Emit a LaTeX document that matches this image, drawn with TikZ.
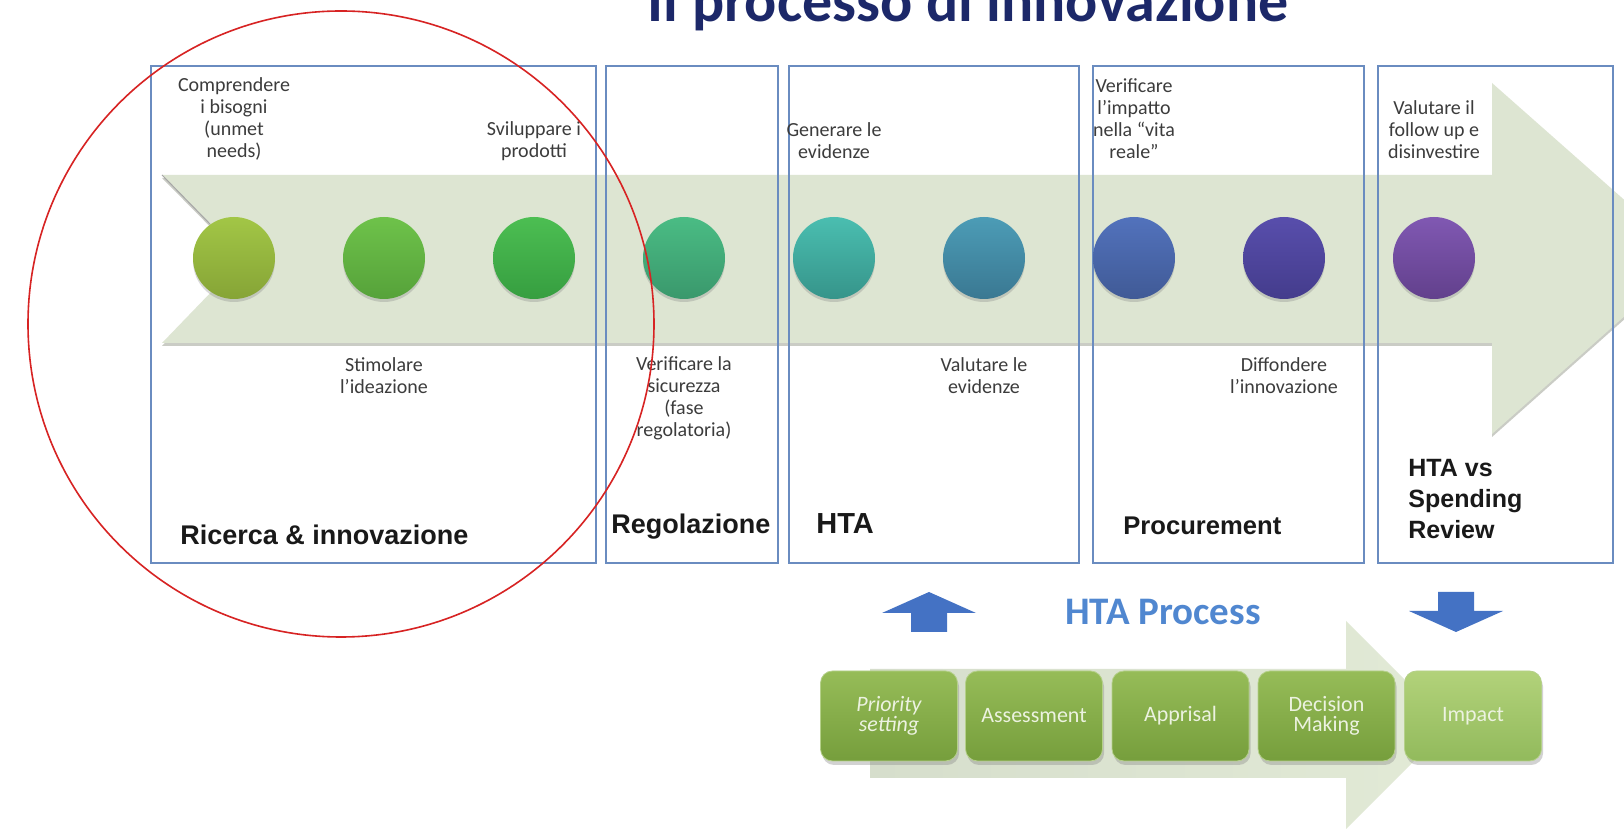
\documentclass[tikz,border=0pt]{standalone}
\usepackage{fontspec}
\setmainfont{Carlito}
\newfontfamily\arialf{Liberation Sans}
\usetikzlibrary{shadows}
\definecolor{arrowfill}{RGB}{221,229,210}
\definecolor{arrowshadow}{RGB}{150,155,140}
\definecolor{boxblue}{RGB}{106,140,192}
\definecolor{notegray}{RGB}{60,60,60}
\definecolor{titlenavy}{RGB}{28,40,105}
\definecolor{htablue}{RGB}{80,135,208}
\definecolor{arrowblue}{RGB}{68,114,196}
\definecolor{phaseblack}{RGB}{25,25,25}
\definecolor{redline}{RGB}{215,35,35}
\definecolor{ca}{RGB}{162,198,70}\definecolor{cA}{RGB}{134,164,54}
\definecolor{cb}{RGB}{110,194,74}\definecolor{cB}{RGB}{86,162,58}
\definecolor{cc}{RGB}{76,190,82}\definecolor{cC}{RGB}{54,158,64}
\definecolor{cd}{RGB}{74,188,132}\definecolor{cD}{RGB}{58,152,108}
\definecolor{ce}{RGB}{74,190,176}\definecolor{cE}{RGB}{54,148,138}
\definecolor{cf}{RGB}{76,156,182}\definecolor{cF}{RGB}{58,120,146}
\definecolor{cg}{RGB}{82,114,188}\definecolor{cG}{RGB}{64,90,150}
\definecolor{ch}{RGB}{88,78,172}\definecolor{cH}{RGB}{68,60,140}
\definecolor{ci}{RGB}{128,88,178}\definecolor{cI}{RGB}{98,64,140}
\definecolor{steptop}{RGB}{150,188,88}\definecolor{stepbot}{RGB}{118,158,60}
\definecolor{impacttop}{RGB}{178,210,122}\definecolor{impactbot}{RGB}{146,186,92}
\definecolor{steptext}{RGB}{236,242,224}
\definecolor{lowarrowL}{RGB}{214,222,204}\definecolor{lowarrowR}{RGB}{226,234,214}
\begin{document}
\begin{tikzpicture}[x=0.5pt,y=-0.5pt,
  stagebox/.style={draw=boxblue, line width=0.8pt, inner sep=0pt, anchor=north west},
  ball/.style 2 args={circle, minimum size=41pt, inner sep=0pt, top color=#1, bottom color=#2,
     drop shadow={shadow xshift=0pt, shadow yshift=-1.5pt, opacity=0.3}},
  note/.style={font=\fontsize{10}{11}\selectfont, align=center, text=notegray, inner sep=0pt},
  phase/.style={font=\arialf\bfseries\fontsize{13.5}{15.5}\selectfont, text=phaseblack, anchor=base west, inner sep=0pt, align=left},
  htastep/.style={rounded corners=6pt, minimum width=68.5pt, minimum height=45pt, inner sep=0pt,
     top color=steptop, bottom color=stepbot, draw=steptop!70!white, line width=0.4pt,
     text=steptext, font=\fontsize{11}{10}\selectfont, align=center,
     drop shadow={shadow xshift=0.8pt, shadow yshift=-2pt, opacity=0.35}},
  bluearrow/.style={fill=arrowblue, draw=none}
]
\useasboundingbox (0,0) rectangle (1624,833);
\fill[white] (0,0) rectangle (1624,833);

% title (cut at top)
\node[font=\bfseries\fontsize{30}{30}\selectfont, text=titlenavy, anchor=base, inner sep=0pt] (title) at (968,22) {Il processo di innovazione};

% big arrow
\begin{scope}
\clip (0,0) rectangle (1624,833);
\fill[arrowshadow, opacity=0.5] (162,178) -- (1492,178) -- (1492,86) -- (1690,261) -- (1492,437) -- (1492,346) -- (162,346) -- (244,261) -- cycle;
\fill[arrowfill] (162,175) -- (1492,175) -- (1492,83) -- (1690,258) -- (1492,434) -- (1492,343) -- (162,343) -- (244,258) -- cycle;
\draw[gray!70, line width=0.5pt] (162,175) -- (210,224);
\end{scope}

% stage boxes
\node[stagebox, minimum width=222.5pt, minimum height=248.5pt] (b1) at (150,65) {};
\node[stagebox, minimum width=86pt, minimum height=248.5pt] (b2) at (605,65) {};
\node[stagebox, minimum width=145pt, minimum height=248.5pt] (b3) at (788,65) {};
\node[stagebox, minimum width=135.5pt, minimum height=248.5pt] (b4) at (1092,65) {};
\node[stagebox, minimum width=117.5pt, minimum height=248.5pt] (b5) at (1377,65) {};

% circles
\node[ball={ca}{cA}] (c1) at (234,258) {};
\node[ball={cb}{cB}] (c2) at (384,258) {};
\node[ball={cc}{cC}] (c3) at (534,258) {};
\node[ball={cd}{cD}] (c4) at (684,258) {};
\node[ball={ce}{cE}] (c5) at (834,258) {};
\node[ball={cf}{cF}] (c6) at (984,258) {};
\node[ball={cg}{cG}] (c7) at (1134,258) {};
\node[ball={ch}{cH}] (c8) at (1284,258) {};
\node[ball={ci}{cI}] (c9) at (1434,258) {};

% upper notes
\node[note] (t1) at (234,119) {Comprendere\\i bisogni\\(unmet\\needs)};
\node[note] (t3) at (534,141) {Sviluppare i\\prodotti};
\node[note] (t5) at (834,141) {Generare le\\evidenze};
\node[note] (t7) at (1134,119) {Verificare\\l’impatto\\nella “vita\\reale”};
\node[note] (t9) at (1434,130) {Valutare il\\follow up e\\disinvestire};

% lower notes
\node[note] (t2) at (384,376) {Stimolare\\l’ideazione};
\node[note] (t4) at (684,398) {Verificare la\\sicurezza\\(fase\\regolatoria)};
\node[note] (t6) at (984,376) {Valutare le\\evidenze};
\node[note] (t8) at (1284,376) {Diffondere\\l’innovazione};

% phase labels
\node[phase] (p1) at (180,545) {Ricerca \& innovazione};
\node[phase] (p2) at (611,534) {Regolazione};
\node[phase, font=\arialf\bfseries\fontsize{14.5}{15.5}\selectfont] (p3) at (816,534) {HTA};
\node[phase, font=\arialf\bfseries\fontsize{12.8}{15.5}\selectfont] (p4) at (1123,535) {Procurement};
\node[phase, font=\arialf\bfseries\fontsize{12.5}{15.5}\selectfont] (p5) at (1408,539) {HTA vs\\Spending\\Review};

% blue arrows
\fill[bluearrow] (929,592) -- (976,613) -- (947,613) -- (947,632) -- (911,632) -- (911,613) -- (882,613) -- cycle;
\fill[bluearrow] (1438,592) -- (1474,592) -- (1474,611) -- (1503,611) -- (1456,632) -- (1409,611) -- (1438,611) -- cycle;

\node[font=\bfseries\fontsize{19.5}{20}\selectfont, text=htablue, inner sep=0pt] (htaproc) at (1163,612) {HTA Process};

% lower process arrow
\shade[left color=lowarrowL, right color=lowarrowR] (870,669) -- (1346,669) -- (1346,621) -- (1450,725) -- (1346,829) -- (1346,778) -- (870,778) -- cycle;

% HTA steps
\node[htastep] (s1) at (889,716) {\itshape Priority\\\itshape setting};
\node[htastep] (s2) at (1034,716) {Assessment};
\node[htastep] (s3) at (1180.5,716) {Apprisal};
\node[htastep] (s4) at (1326.5,716) {Decision\\Making};
\node[htastep, top color=impacttop, bottom color=impactbot] (s5) at (1473,716) {Impact};

% red ellipse
\draw[redline, line width=0.8pt] (341,324) ellipse [x radius=313, y radius=313];
\end{tikzpicture}
\end{document}
